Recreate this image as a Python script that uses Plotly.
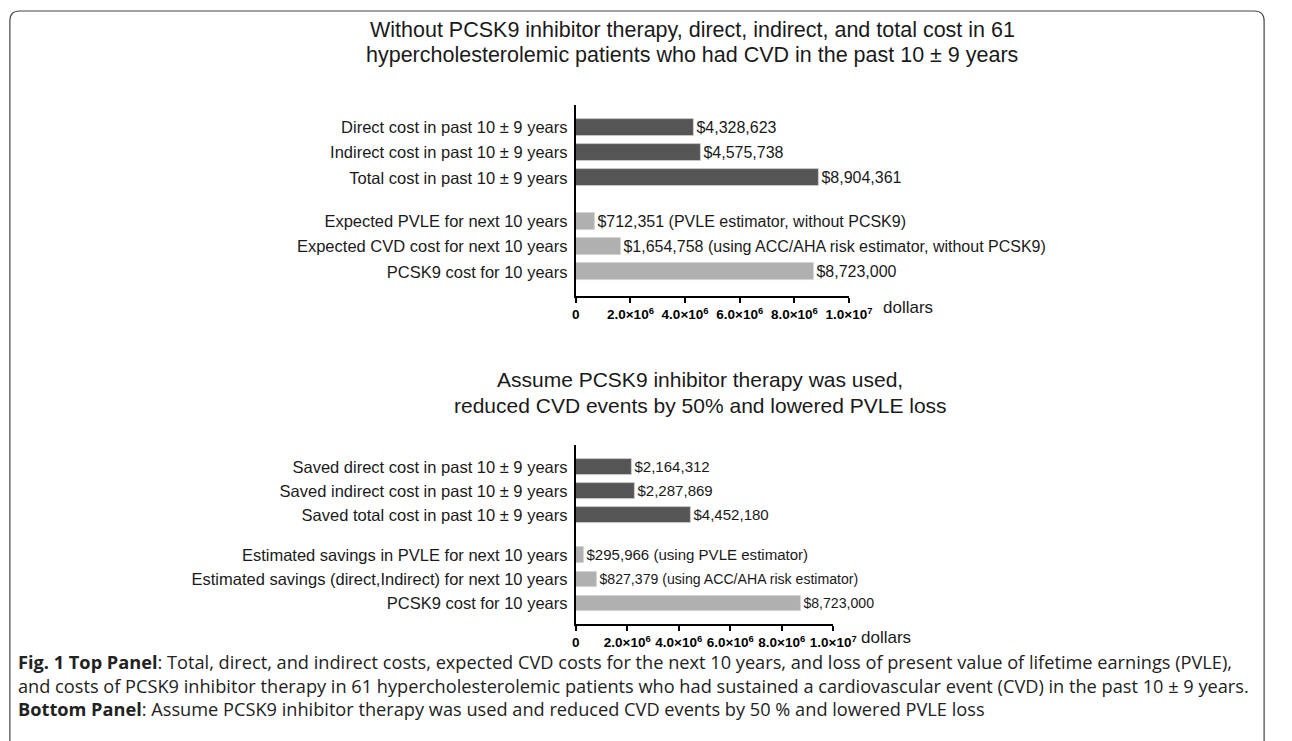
import plotly.graph_objects as go

# ---------------- data ----------------
top_title = ["Without PCSK9 inhibitor therapy, direct, indirect, and total cost in 61",
             "hypercholesterolemic patients who had CVD in the past 10 ± 9 years"]
top_labels = ["Direct cost in past 10 ± 9 years",
              "Indirect cost in past 10 ± 9 years",
              "Total cost in past 10 ± 9 years",
              "Expected PVLE for next 10 years",
              "Expected CVD cost for next 10 years",
              "PCSK9 cost for 10 years"]
top_values = [4328623, 4575738, 8904361, 712351, 1654758, 8723000]
top_texts = ["$4,328,623", "$4,575,738", "$8,904,361",
             "$712,351 (PVLE estimator, without PCSK9)",
             "$1,654,758 (using ACC/AHA risk estimator, without PCSK9)",
             "$8,723,000"]

bot_title = ["Assume PCSK9 inhibitor therapy was used,",
             "reduced CVD events by 50% and lowered PVLE loss"]
bot_labels = ["Saved direct cost in past 10 ± 9 years",
              "Saved indirect cost in past 10 ± 9 years",
              "Saved total cost in past 10 ± 9 years",
              "Estimated savings in PVLE for next 10 years",
              "Estimated savings (direct,Indirect) for next 10 years",
              "PCSK9 cost for 10 years"]
bot_values = [2164312, 2287869, 4452180, 295966, 827379, 8723000]
bot_texts = ["$2,164,312", "$2,287,869", "$4,452,180",
             "$295,966 (using PVLE estimator)",
             "$827,379 (using ACC/AHA risk estimator)",
             "$8,723,000"]

groups = ["past", "past", "past", "future", "future", "future"]
tick_vals = [0, 2e6, 4e6, 6e6, 8e6, 1e7]
tick_text = ["0", "2.0×10<sup>6</sup>", "4.0×10<sup>6</sup>", "6.0×10<sup>6</sup>",
             "8.0×10<sup>6</sup>", "1.0×10<sup>7</sup>"]
axis_unit = "dollars"

caption_lines = [
    "<b>Fig. 1 Top Panel</b>: Total, direct, and indirect costs, expected CVD costs for the next 10 years, and loss of present value of lifetime earnings (PVLE),",
    "and costs of PCSK9 inhibitor therapy in 61 hypercholesterolemic patients who had sustained a cardiovascular event (CVD) in the past 10 ± 9 years.",
    "<b>Bottom Panel</b>: Assume PCSK9 inhibitor therapy was used and reduced CVD events by 50 % and lowered PVLE loss",
]

# ---------------- layout helpers ----------------
W, H = 1292, 741
DARK, LIGHT = "#555555", "#b0b0b0"
FONT = "Liberation Sans, Arial, sans-serif"
TXT = "#1a1a1a"


def px_x(x):
    return x / W


def px_y(y):
    return 1 - y / H


def positions(n, gap):
    return [i + (gap if g == "future" else 0) for i, g in zip(range(n), groups)]


fig = go.Figure()

panels = [
    dict(labels=top_labels, values=top_values, texts=top_texts, gap=0.7,
         xa="x", ya="y", xdom=(584, 863), ydom=(105, 296), pad=(0.87, 0.95), bw=0.67),
    dict(labels=bot_labels, values=bot_values, texts=bot_texts, gap=0.67,
         xa="x2", ya="y2", xdom=(584, 847), ydom=(445, 624), pad=(0.92, 0.86), bw=0.65),
]

for k, p in enumerate(panels):
    ypos = positions(len(p["values"]), p["gap"])
    colors = [DARK if g == "past" else LIGHT for g in groups]
    fig.add_trace(go.Bar(
        x=p["values"], y=ypos, orientation="h", width=p["bw"],
        marker=dict(color=colors, line=dict(color="#d0d0d0", width=0.8)),
        text=p["texts"], textposition="outside", cliponaxis=False,
        textfont=dict(family=FONT, size=16, color=TXT),
        xaxis=p["xa"], yaxis=p["ya"], showlegend=False, hoverinfo="skip",
    ))
    sfx = "" if k == 0 else "2"
    fig.update_layout(**{
        "xaxis" + sfx: dict(
            domain=[px_x(p["xdom"][0]), px_x(p["xdom"][1])], range=[0, 1e7],
            anchor="y" + sfx, showline=True, linecolor="black", linewidth=2,
            ticks="outside", ticklen=5, tickwidth=1.5, tickcolor="black",
            tickvals=tick_vals, ticktext=tick_text, showgrid=False, zeroline=False,
            tickfont=dict(family=FONT, size=13.5, color="black", weight="bold"),
        ),
        "yaxis" + sfx: dict(
            domain=[px_y(p["ydom"][1]), px_y(p["ydom"][0])],
            range=[ypos[-1] + p["pad"][1], -p["pad"][0]],
            anchor="x" + sfx, showline=True, linecolor="black", linewidth=2,
            ticks="", tickvals=ypos, ticktext=p["labels"], showgrid=False,
            zeroline=False, ticklabelstandoff=3,
            tickfont=dict(family=FONT, size=16.5, color=TXT),
        ),
    })

annotations = []
# titles (centred over each plot area)
for lines, ys, cx, fs in ((top_title, (30, 55), 703, 21.5), (bot_title, (380, 405), 711, 21)):
    for line, y in zip(lines, ys):
        annotations.append(dict(text=line, x=px_x(cx), y=px_y(y), xref="paper", yref="paper",
                                xanchor="center", yanchor="middle", showarrow=False,
                                font=dict(family=FONT, size=fs, color=TXT)))
# axis unit labels
for x, y in ((923, 308), (901, 637)):
    annotations.append(dict(text=axis_unit, x=px_x(x), y=px_y(y), xref="paper", yref="paper",
                            xanchor="center", yanchor="middle", showarrow=False,
                            font=dict(family=FONT, size=17, color=TXT)))
# caption (one block of three lines)
annotations.append(dict(text="<br>".join(caption_lines), x=px_x(12), y=px_y(685),
                        xref="paper", yref="paper", xanchor="left", yanchor="middle",
                        align="left", showarrow=False,
                        font=dict(family="Open Sans, Noto Sans, sans-serif", size=18.2, color="#222")))

# rounded frame open at the bottom
top_edge, left_edge, right_edge, r = 11, 6, 1287, 10
L, R, T, B = px_x(left_edge), px_x(right_edge), px_y(top_edge), px_y(H + 5)
frame = (f"M {L},{B} L {L},{px_y(top_edge + r)} Q {L},{T} {px_x(left_edge + r)},{T} "
         f"L {px_x(right_edge - r)},{T} Q {R},{T} {R},{px_y(top_edge + r)} L {R},{B}")

fig.update_layout(
    width=W, height=H, margin=dict(l=0, r=0, t=0, b=0),
    paper_bgcolor="white", plot_bgcolor="white",
    annotations=annotations, bargap=0,
    shapes=[dict(type="path", path=frame, xref="paper", yref="paper",
                 line=dict(color="#444", width=1.2))],
)

# remove the page's default body margin so the 1292x741 figure fills the window exactly
fig.write_html("out.html", config={"displayModeBar": False},
               post_script="document.body.style.margin='0';document.body.style.overflow='hidden';")
